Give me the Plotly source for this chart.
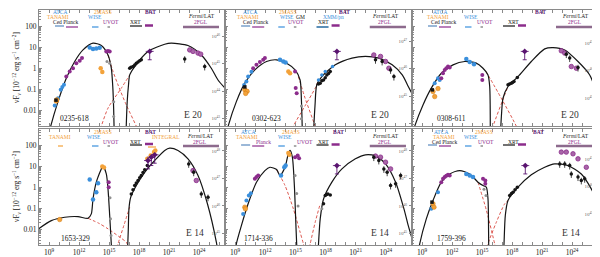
import plotly.graph_objects as go

W, H = 600, 257
FONT = "Liberation Serif"

# ---------------- axis ticks ----------------
X_TICKVALS = [1e9, 1e12, 1e15, 1e18, 1e21, 1e24]
X_TICKTEXT = ["10<sup>9</sup>", "10<sup>12</sup>", "10<sup>15</sup>", "10<sup>18</sup>", "10<sup>21</sup>", "10<sup>24</sup>"]
Y_TICKVALS = [0.01, 0.1, 1, 10, 100]
Y_TICKTEXT = ["0.01", "0.1", "1", "10", "100"]

SOURCES = ["0235-618", "0302-623", "0308-611", "1653-329", "1714-336", "1759-396"]
EPOCHS = ["E 20", "E 20", "E 20", "E 14", "E 14", "E 14"]
# right-hand nuL_nu tick exponents per panel
R_EXP_0235 = [43, 44, 45, 46]
R_EXP_0302 = [44, 45, 46, 47]
R_EXP_0308 = [45, 46, 47]
R_EXP_1653 = [45, 46, 47, 48]
R_EXP_1714 = [45, 46, 47, 48]
R_EXP_1759 = [45, 46, 47]

# ---------------- data (log10 nu [Hz], log10 nuFnu [1e-12 erg/s/cm2]) ----------------
# 0235-618
P0235_SYN_NU = [9.0, 9.17, 9.9, 10.73, 11.57, 12.4, 13.4, 14.23, 14.9, 15.23, 15.38, 15.47, 15.52]
P0235_SYN_F = [-3.1, -2.76, -1.59, -0.48, 0.32, 0.87, 1.19, 1.08, 0.63, 0.0, -0.9, -2.0, -3.1]
P0235_IC_NU = [16.7, 16.82, 16.95, 17.07, 17.57, 18.9, 20.57, 21.23, 22.9, 24.23, 25.23, 25.9, 26.7]
P0235_IC_F = [-3.1, -1.6, -0.8, -0.32, 0.08, 0.8, 1.14, 1.19, 1.08, 0.63, 0.0, -0.56, -1.0]
P0235_SYNU_NU = [14.9, 15.4, 15.9, 16.73, 17.73, 17.95]
P0235_SYNU_F = [0.63, -0.15, -0.79, -1.75, -2.76, -3.05]
P0235_ICU_NU = [14.0, 14.23, 14.9, 16.23, 17.07]
P0235_ICU_F = [-3.1, -2.76, -1.9, -0.95, -0.32]
P0235_TAN_NU = [9.73, 9.78]
P0235_TAN_F = [-1.56, -1.5]
P0235_CED_NU = [9.7]
P0235_CED_F = [-1.52]
P0235_ATCA_NU = [9.57, 9.9, 10.17, 10.33, 10.5]
P0235_ATCA_F = [-1.78, -1.43, -1.03, -0.89, -0.79]
P0235_PLK_NU = [10.73, 11.07, 11.4, 11.73, 12.07, 12.3]
P0235_PLK_F = [-0.40, -0.16, 0.0, 0.24, 0.35, 0.48]
P0235_WISE_NU = [13.07, 13.4, 13.73, 14.07]
P0235_WISE_F = [0.98, 0.92, 0.94, 0.97]
P0235_MASS_NU = [14.17, 14.33]
P0235_MASS_F = [0.0, -0.18]
P0235_UVOT_NU = [14.73, 14.9, 15.07]
P0235_UVOT_F = [0.80, 0.82, 0.80]
P0235_GRY_NU = [14.8, 15.07, 15.47, 15.47]
P0235_GRY_F = [0.32, 0.24, -1.6, -2.3]
P0235_XMM_NU = []
P0235_XMM_F = []
P0235_XRT_NU = [17.07, 17.2, 17.4, 17.57, 17.73, 17.9, 18.07, 18.23]
P0235_XRT_F = [0.0, 0.05, 0.08, 0.15, 0.24, 0.30, 0.35, 0.40]
P0235_BAT_NU = [19.07]
P0235_BAT_F = [0.80]
P0235_INT_NU = []
P0235_INT_F = []
P0235_LATP_NU = [23.07, 23.4, 23.9, 24.17]
P0235_LATP_F = [0.87, 0.80, 0.72, 0.67]
P0235_LATB_NU = [22.57, 24.57]
P0235_LATB_F = [0.44, 0.08]

# 0302-623
P0302_SYN_NU = [8.1, 8.3, 9.13, 9.97, 10.97, 12.13, 13.13, 14.13, 14.97, 15.47, 15.6, 15.7]
P0302_SYN_F = [-3.2, -2.78, -1.59, -0.71, -0.08, 0.32, 0.40, 0.24, -0.08, -0.56, -1.5, -3.2]
P0302_IC_NU = [16.8, 16.95, 17.13, 17.63, 18.97, 20.63, 21.97, 23.3, 24.63, 25.63, 26.23, 26.7]
P0302_IC_F = [-3.1, -1.8, -0.79, -0.40, 0.16, 0.48, 0.56, 0.48, 0.16, -0.32, -0.87, -1.3]
P0302_SYNU_NU = [15.3, 15.97, 16.97, 17.2]
P0302_SYNU_F = [-0.4, -1.43, -2.76, -3.1]
P0302_ICU_NU = [14.6, 14.8, 16.0, 16.97, 17.3]
P0302_ICU_F = [-3.1, -2.76, -1.76, -0.95, -0.56]
P0302_TAN_NU = [9.97, 10.2, 10.05]
P0302_TAN_F = [-1.03, -1.1, -1.2]
P0302_CED_NU = [9.97]
P0302_CED_F = [-0.89]
P0302_ATCA_NU = [9.9, 10.13, 10.3, 10.63]
P0302_ATCA_F = [-0.80, -0.63, -0.40, -0.17]
P0302_PLK_NU = [10.8, 11.13, 11.47, 11.8, 11.97]
P0302_PLK_F = [0.0, 0.16, 0.29, 0.40, 0.48]
P0302_WISE_NU = [13.47, 13.8, 14.03]
P0302_WISE_F = [0.40, 0.32, 0.27]
P0302_MASS_NU = [14.3, 14.47]
P0302_MASS_F = [-0.16, -0.24]
P0302_UVOT_NU = [14.97, 15.03, 15.13]
P0302_UVOT_F = [-0.16, -0.94, -1.19]
P0302_GRY_NU = [15.6, 15.6]
P0302_GRY_F = [-1.8, -2.4]
P0302_XMM_NU = [17.3, 17.63, 17.97, 18.7]
P0302_XMM_F = [-0.56, -0.32, -0.16, 0.08]
P0302_XRT_NU = [17.3, 17.47, 17.63, 17.8, 17.97, 18.13, 18.3, 18.47]
P0302_XRT_F = [-0.75, -0.71, -0.60, -0.56, -0.45, -0.32, -0.25, -0.16]
P0302_BAT_NU = [19.13]
P0302_BAT_F = [0.80]
P0302_INT_NU = []
P0302_INT_F = []
P0302_LATP_NU = [22.8, 23.47, 23.97, 24.3]
P0302_LATP_F = [0.63, 0.56, 0.32, 0.0]
P0302_LATB_NU = [22.97, 23.63, 24.47, 24.8]
P0302_LATB_F = [0.40, 0.32, -0.08, -0.40]

# 0308-611
P0308_SYN_NU = [8.0, 8.27, 9.1, 9.93, 10.93, 12.1, 13.27, 14.43, 15.1, 15.6, 15.77, 15.83]
P0308_SYN_F = [-3.2, -2.76, -1.75, -0.95, -0.24, 0.16, 0.32, 0.24, 0.0, -0.32, -0.87, -3.2]
P0308_IC_NU = [16.85, 16.95, 17.1, 17.6, 18.6, 19.93, 21.27, 22.1, 23.27, 24.6, 25.77, 26.7]
P0308_IC_F = [-3.1, -2.2, -1.43, -0.87, -0.40, 0.32, 0.92, 0.98, 0.87, 0.32, -0.32, -1.55]
P0308_SYNU_NU = [15.4, 16.93, 18.43, 18.6]
P0308_SYNU_F = [-0.15, -1.43, -2.76, -3.0]
P0308_ICU_NU = [15.9, 16.1, 17.27, 17.6]
P0308_ICU_F = [-3.1, -2.76, -1.27, -0.87]
P0308_TAN_NU = [10.1, 10.27, 10.6]
P0308_TAN_F = [-1.11, -1.35, -0.97]
P0308_CED_NU = [10.03]
P0308_CED_F = [-1.03]
P0308_ATCA_NU = [10.27, 10.6, 10.77]
P0308_ATCA_F = [-0.71, -0.48, -0.56]
P0308_PLK_NU = [10.93, 11.1, 11.27, 11.43, 11.6, 11.77]
P0308_PLK_F = [-0.48, -0.24, -0.08, 0.0, 0.08, 0.03]
P0308_WISE_NU = [13.43, 13.77, 14.2]
P0308_WISE_F = [0.44, 0.29, 0.19]
P0308_MASS_NU = []
P0308_MASS_F = []
P0308_UVOT_NU = [15.03, 15.03]
P0308_UVOT_F = [-0.32, -0.56]
P0308_GRY_NU = []
P0308_GRY_F = []
P0308_XMM_NU = []
P0308_XMM_F = []
P0308_XRT_NU = [17.6, 17.75, 17.93, 18.05, 18.2, 18.53]
P0308_XRT_F = [-0.79, -0.75, -0.71, -0.68, -0.63, -0.44]
P0308_BAT_NU = [19.27]
P0308_BAT_F = [0.80]
P0308_INT_NU = []
P0308_INT_F = []
P0308_LATP_NU = [22.93, 23.27, 23.93, 24.43]
P0308_LATP_F = [0.83, 0.72, 0.08, 0.0]
P0308_LATB_NU = [23.43, 23.77, 24.6]
P0308_LATB_F = [0.67, 0.48, 0.03]

# 1653-329
P1653_SYN_NU = [7.9, 9.23, 10.57, 11.9, 12.9, 13.23, 13.4, 13.73, 14.23, 14.4, 14.73, 14.9, 15.07, 15.23, 15.3]
P1653_SYN_F = [-2.0, -1.59, -1.43, -1.40, -1.48, -1.27, -0.56, 0.24, 0.87, 1.03, 0.63, -0.08, -1.35, -2.7, -3.2]
P1653_IC_NU = [16.85, 16.93, 17.0, 17.17, 17.73, 18.57, 19.57, 20.57, 21.07, 21.9, 22.9, 23.9, 24.85, 25.73, 25.9]
P1653_IC_F = [-3.1, -2.0, -1.0, -0.48, 0.08, 0.71, 1.27, 1.75, 1.86, 1.75, 1.35, 0.56, -0.80, -2.6, -3.1]
P1653_SYNU_NU = [12.9, 14.0, 14.9, 16.0, 16.73, 17.0]
P1653_SYNU_F = [-1.48, -1.72, -1.98, -2.35, -2.62, -2.9]
P1653_ICU_NU = [15.7, 15.9, 16.5, 17.07]
P1653_ICU_F = [-3.1, -2.7, -1.8, -0.95]
P1653_TAN_NU = [10.07]
P1653_TAN_F = [-1.54]
P1653_CED_NU = []
P1653_CED_F = []
P1653_ATCA_NU = []
P1653_ATCA_F = []
P1653_PLK_NU = []
P1653_PLK_F = []
P1653_WISE_NU = [13.07, 13.4, 13.73, 13.9]
P1653_WISE_F = [0.37, -0.59, -0.24, 0.19]
P1653_MASS_NU = [14.33, 14.5]
P1653_MASS_F = [0.98, 0.94]
P1653_UVOT_NU = [14.97, 14.97]
P1653_UVOT_F = [0.24, 0.0]
P1653_GRY_NU = [15.1, 15.15, 15.2]
P1653_GRY_F = [-0.5, -1.5, -2.3]
P1653_XMM_NU = []
P1653_XMM_F = []
P1653_XRT_NU = [17.23, 17.4, 17.57, 17.73, 17.9, 18.07, 18.23, 18.4, 18.57, 18.83]
P1653_XRT_F = [-0.32, -0.12, 0.08, 0.20, 0.32, 0.45, 0.56, 0.70, 0.83, 1.03]
P1653_BAT_NU = [18.9, 19.23, 19.57]
P1653_BAT_F = [1.27, 1.43, 1.54]
P1653_INT_NU = [18.83, 19.17, 19.5, 19.63]
P1653_INT_F = [1.35, 1.51, 1.67, 1.75]
P1653_LATP_NU = [23.4, 23.73]
P1653_LATP_F = [0.79, 0.32]
P1653_LATB_NU = [22.97, 23.47, 24.23, 24.9]
P1653_LATB_F = [1.11, 0.71, -0.32, -0.48]

# 1714-336
P1714_SYN_NU = [9.0, 9.13, 9.63, 10.3, 11.13, 11.97, 12.47, 13.13, 13.47, 13.97, 14.3, 14.47, 14.7, 14.9, 15.03, 15.13, 15.2]
P1714_SYN_F = [-3.2, -2.7, -1.83, -0.79, 0.24, 0.79, 0.95, 0.84, 0.56, 0.95, 1.59, 1.75, 1.43, 0.08, -1.51, -2.7, -3.2]
P1714_IC_NU = [17.25, 17.3, 17.47, 17.8, 18.63, 19.63, 20.97, 21.97, 22.97, 23.97, 24.97, 25.8, 26.23, 26.7]
P1714_IC_F = [-3.1, -2.7, -1.51, -0.56, 0.24, 0.87, 1.35, 1.54, 1.48, 1.11, 0.24, -1.03, -1.83, -2.6]
P1714_SYNU_NU = [13.13, 13.97, 14.8, 15.47, 15.8, 15.95]
P1714_SYNU_F = [0.84, 0.08, -1.03, -2.14, -2.7, -3.0]
P1714_ICU_NU = [16.3, 16.47, 16.97, 17.47]
P1714_ICU_F = [-3.1, -2.7, -1.67, -0.79]
P1714_TAN_NU = [9.97, 10.03]
P1714_TAN_F = [-0.95, -1.03]
P1714_CED_NU = []
P1714_CED_F = []
P1714_ATCA_NU = [9.8, 10.13, 10.37, 10.57]
P1714_ATCA_F = [-1.27, -0.63, -0.40, -0.29]
P1714_PLK_NU = [10.97, 11.13, 11.3]
P1714_PLK_F = [0.40, 0.48, 0.56]
P1714_WISE_NU = [13.57, 13.9, 14.03]
P1714_WISE_F = [0.56, 0.95, 1.03]
P1714_MASS_NU = [14.3, 14.4]
P1714_MASS_F = [1.63, 1.54]
P1714_UVOT_NU = [14.97, 15.23, 15.37]
P1714_UVOT_F = [1.43, 1.51, 1.38]
P1714_GRY_NU = [14.97, 15.13, 15.27, 17.63]
P1714_GRY_F = [0.56, -0.3, -0.9, -1.03]
P1714_XMM_NU = []
P1714_XMM_F = []
P1714_XRT_NU = [17.8, 17.97, 18.1, 18.23, 18.47]
P1714_XRT_F = [-0.79, -0.40, -0.35, -0.32, -0.37]
P1714_BAT_NU = [19.13]
P1714_BAT_F = [1.03]
P1714_INT_NU = []
P1714_INT_F = []
P1714_LATP_NU = [22.97, 23.47, 23.97, 24.47]
P1714_LATP_F = [1.48, 1.43, 1.19, 0.87]
P1714_LATB_NU = [22.8, 23.3, 23.8, 24.13, 24.47, 24.97, 25.47]
P1714_LATB_F = [1.43, 1.27, 0.87, 0.71, 0.08, 0.16, 0.56]

# 1759-396
P1759_SYN_NU = [8.6, 8.77, 9.43, 10.1, 10.93, 11.77, 12.77, 13.77, 14.6, 15.1, 15.43, 15.6, 15.67, 15.7]
P1759_SYN_F = [-3.2, -2.7, -1.51, -0.63, 0.24, 0.63, 0.79, 0.63, 0.24, 0.08, 0.0, -0.56, -2.7, -3.2]
P1759_IC_NU = [17.15, 17.2, 17.33, 17.6, 18.6, 19.93, 21.27, 22.27, 23.6, 24.93, 25.93, 26.53, 26.7]
P1759_IC_F = [-3.1, -2.7, -1.35, -0.63, 0.0, 0.59, 0.95, 1.11, 1.03, 0.63, -0.08, -0.71, -0.9]
P1759_SYNU_NU = [14.6, 15.43, 16.27, 16.45]
P1759_SYNU_F = [0.24, -1.08, -2.7, -3.1]
P1759_ICU_NU = [15.45, 15.6, 16.43, 17.27, 17.6]
P1759_ICU_F = [-3.1, -2.7, -1.67, -0.79, -0.63]
P1759_TAN_NU = [10.1, 10.2]
P1759_TAN_F = [-0.79, -0.95]
P1759_CED_NU = [10.0]
P1759_CED_F = [-0.71]
P1759_ATCA_NU = [9.93, 10.6]
P1759_ATCA_F = [-1.03, -0.24]
P1759_PLK_NU = [10.93, 11.1, 11.27, 11.43, 11.6, 11.77]
P1759_PLK_F = [0.24, 0.40, 0.48, 0.55, 0.59, 0.56]
P1759_WISE_NU = [13.43, 13.77, 14.1]
P1759_WISE_F = [0.63, 0.56, 0.48]
P1759_MASS_NU = []
P1759_MASS_F = []
P1759_UVOT_NU = [15.1, 15.33, 15.33]
P1759_UVOT_F = [0.40, 0.32, 0.16]
P1759_GRY_NU = [15.2, 15.4]
P1759_GRY_F = [-0.1, -0.4]
P1759_XMM_NU = []
P1759_XMM_F = []
P1759_XRT_NU = [17.77, 17.95, 18.1, 18.3, 18.53]
P1759_XRT_F = [-0.40, -0.30, -0.24, -0.12, 0.0]
P1759_BAT_NU = [19.33]
P1759_BAT_F = [1.03]
P1759_INT_NU = []
P1759_INT_F = []
P1759_LATP_NU = [22.93, 23.43, 24.1, 24.6, 25.43]
P1759_LATP_F = [1.67, 1.67, 1.59, 1.35, 0.95]
P1759_LATB_NU = [22.77, 23.27, 23.77, 23.93, 24.6, 24.93, 25.27]
P1759_LATB_F = [1.11, 1.11, 1.03, 0.63, 0.48, 0.32, 0.40]

# instrument frequency bands (log10 nu)
BAND_ATCA = [9.6, 10.5]
BAND_PLANCK = [10.7, 11.9]
BAND_WISE = [13.3, 13.95]
BAND_UVOT = [14.85, 15.1]
BAND_XRT = [17.1, 18.3]
BAND_XMM = [17.1, 18.3]
BAND_BAT = [18.6, 19.4]
BAND_INT = [18.9, 19.7]
BAND_LAT = [22.4, 26.0]
BAND_TANAMI = [9.9, 10.4]

# ---------------- style ----------------
BLUE = "#3a8fdc"
ORANGE = "#f3a23a"
PURPLE = "#8c2c8c"
LPURPLE = "#a866a8"
DPURPLE = "#5a1470"
GREY = "#8f8f8f"
RED = "#d8453c"
DARK = "#151515"
AX = "#8a8a8a"

XDOM = [(31 / W, 217 / W), (217 / W, 404 / W), (404 / W, 590 / W)]
YDOM = [(1 - 118 / H, 1 - 2 / H), (1 - 237 / H, 1 - 121 / H)]
X_RANGE = [8.0, 26.6]
Y_RANGE = [-2.75, 2.77]
R_RANGES = [[42.73, 46.95], [43.91, 48.13], [43.98, 48.2], [44.58, 48.8], [44.58, 48.8], [43.87, 48.09]]
R_EXPS = [R_EXP_0235, R_EXP_0302, R_EXP_0308, R_EXP_1653, R_EXP_1714, R_EXP_1759]

g = globals()
KEYS = ["0235", "0302", "0308", "1653", "1714", "1759"]


def series(key, name):
    return g[f"P{key}_{name}_NU"], g[f"P{key}_{name}_F"]


def lin(v):
    return [10 ** a for a in v]


fig = go.Figure()

MARKERS = [
    ("ATCA", dict(color=BLUE, size=4, symbol="circle")),
    ("TAN", dict(color=ORANGE, size=4.5, symbol="circle", line=dict(color="#d07a10", width=0.5))),
    ("CED", dict(color=DARK, size=3.5, symbol="square")),
    ("PLK", dict(color=PURPLE, size=4, symbol="circle")),
    ("WISE", dict(color=BLUE, size=4.5, symbol="circle")),
    ("MASS", dict(color=ORANGE, size=4.5, symbol="circle")),
    ("GRY", dict(color=GREY, size=3, symbol="circle")),
    ("UVOT", dict(color=PURPLE, size=4, symbol="circle")),
    ("XMM", dict(color=BLUE, size=3.5, symbol="circle")),
    ("XRT", dict(color=DARK, size=3.5, symbol="circle")),
    ("INT", dict(color=ORANGE, size=4.5, symbol="circle")),
    ("BAT", dict(color=DPURPLE, size=4.5, symbol="diamond")),
    ("LATP", dict(color=LPURPLE, size=4.5, symbol="circle", line=dict(color=PURPLE, width=0.8))),
    ("LATB", dict(color=DARK, size=3.5, symbol="circle")),
]

for i, key in enumerate(KEYS):
    xa = "x" if i == 0 else f"x{i+1}"
    ya = "y" if i == 0 else f"y{i+1}"
    # model curves
    for name, col, dash, wdt in [("SYNU", RED, "3px,2px", 0.9), ("ICU", RED, "3px,2px", 0.9),
                                 ("SYN", DARK, "solid", 1.2), ("IC", DARK, "solid", 1.2)]:
        nu, f = series(key, name)
        fig.add_trace(go.Scatter(x=lin(nu), y=lin(f), mode="lines", xaxis=xa, yaxis=ya,
                                 line=dict(color=col, width=wdt, dash=dash, shape="spline", smoothing=0.7),
                                 hoverinfo="skip", showlegend=False))
    for name, mk in MARKERS:
        nu, f = series(key, name)
        if not nu:
            continue
        kw = {}
        xs = lin(nu)
        ys = lin(f)
        if name == "LATB":
            kw["error_y"] = dict(type="percent", value=35, color=DARK, thickness=0.8, width=0)
        if name == "BAT":
            kw["error_y"] = dict(type="data", symmetric=False, array=[0] * len(ys),
                                 arrayminus=[0.6 * v for v in ys], color=DPURPLE, thickness=0.9, width=2)
            kw["error_x"] = dict(type="data", symmetric=False, array=[v * 1.5 for v in xs],
                                 arrayminus=[v * 0.6 for v in xs], color=DPURPLE, thickness=0.8, width=0)
        fig.add_trace(go.Scatter(x=xs, y=ys, mode="markers", xaxis=xa, yaxis=ya,
                                 marker=mk, hoverinfo="skip", showlegend=False, **kw))
    # dummy trace for the right-hand axis
    fig.add_trace(go.Scatter(x=[None], y=[None], xaxis=xa, yaxis=f"y{i+7}", showlegend=False, hoverinfo="skip"))

layout = dict(width=W, height=H, margin=dict(l=0, r=0, t=0, b=0), autosize=False,
              paper_bgcolor="white", plot_bgcolor="white", font=dict(family=FONT, color=DARK), showlegend=False)

for i in range(6):
    r, c = divmod(i, 3)
    xs = "xaxis" if i == 0 else f"xaxis{i+1}"
    ys = "yaxis" if i == 0 else f"yaxis{i+1}"
    yname = "y" if i == 0 else f"y{i+1}"
    xname = "x" if i == 0 else f"x{i+1}"
    layout[xs] = dict(type="log", range=X_RANGE, domain=XDOM[c], anchor=yname,
                      tickvals=X_TICKVALS, ticktext=X_TICKTEXT, showticklabels=(r == 1),
                      ticks="inside", ticklen=3, tickcolor=AX, mirror="allticks", showline=True,
                      linecolor=AX, linewidth=1, showgrid=False, zeroline=False,
                      tickfont=dict(size=7.5, color=DARK, family=FONT),
                      minor=dict(ticks="inside", ticklen=1.5, dtick=1, tickcolor=AX, showgrid=False))
    layout[ys] = dict(type="log", range=Y_RANGE, domain=YDOM[r], anchor=xname,
                      tickvals=Y_TICKVALS, ticktext=Y_TICKTEXT, showticklabels=(c == 0),
                      ticks="inside", ticklen=3, tickcolor=AX, mirror=True, showline=True,
                      linecolor=AX, linewidth=1, showgrid=False, zeroline=False,
                      tickfont=dict(size=7.5, color=DARK, family=FONT),
                      minor=dict(ticks="inside", ticklen=1.5, dtick="D1", tickcolor=AX, showgrid=False))
    exps = R_EXPS[i]
    layout[f"yaxis{i+7}"] = dict(type="log", range=R_RANGES[i], overlaying=yname, side="right", anchor=xname,
                                 tickvals=[10.0 ** e for e in exps], ticktext=[f"10<sup>{e}</sup>" for e in exps],
                                 ticklabelposition="inside", ticks="inside", ticklen=3, tickcolor=AX,
                                 showgrid=False, showline=False, zeroline=False,
                                 tickfont=dict(size=5, color="#666666", family=FONT))

fig.update_layout(**layout)


def P(x, y):
    return x / W, 1 - y / H


ann = []


def text(t, x, y, size=5.5, color=DARK, angle=0, bold=False):
    px, py = P(x, y)
    if bold:
        t = f"<b>{t}</b>"
    ann.append(dict(text=t, x=px, y=py, xref="paper", yref="paper", showarrow=False,
                    xanchor="center", yanchor="middle", textangle=angle,
                    font=dict(size=size, color=color, family=FONT)))


# instrument labels: (text, color, x px, y px)
LABELS = [
    [("ATCA", BLUE, 52, 4), ("TANAMI", ORANGE, 50, 9), ("Ced Planck", DARK, 57, 14),
     ("2MASS", ORANGE, 95, 4), ("WISE", BLUE, 87, 9), ("UVOT", PURPLE, 103, 14),
     ("BAT", DPURPLE, 142, 4), ("XRT", DARK, 127, 14), ("<i>Fermi</i>/LAT", DARK, 193, 8), ("2FGL", PURPLE, 193, 14)],
    [("ATCA", BLUE, 242, 4), ("TANAMI", ORANGE, 240, 9), ("Ced Planck", DARK, 247, 14),
     ("2MASS", ORANGE, 280, 4), ("WISE", BLUE, 279, 9), ("GM", DARK, 292, 9), ("UVOT", PURPLE, 288, 14),
     ("XMM/pn", BLUE, 325, 9), ("XRT", DARK, 315, 14), ("BAT", DPURPLE, 336, 4),
     ("<i>Fermi</i>/LAT", DARK, 377, 8), ("2FGL", PURPLE, 377, 14)],
    [("ATCA", BLUE, 432, 4), ("TANAMI", ORANGE, 430, 9), ("Ced Planck", DARK, 435, 14),
     ("WISE", BLUE, 463, 9), ("UVOT", PURPLE, 477, 14), ("BAT", DPURPLE, 532, 4), ("XRT", DARK, 505, 14),
     ("<i>Fermi</i>/LAT", DARK, 567, 8), ("2FGL", PURPLE, 567, 14)],
    [("TANAMI", ORANGE, 52, 129), ("2MASS", ORANGE, 95, 124), ("WISE", BLUE, 86, 129),
     ("UVOT", PURPLE, 103, 134), ("BAT", DPURPLE, 142, 124), ("XRT", DARK, 127, 134),
     ("INTEGRAL", ORANGE, 158, 129), ("<i>Fermi</i>/LAT", DARK, 192, 128), ("2FGL", PURPLE, 192, 134)],
    [("ATCA", BLUE, 240, 124), ("TANAMI", ORANGE, 239, 129), ("Planck", PURPLE, 255, 134),
     ("2MASS", ORANGE, 283, 124), ("WISE", BLUE, 277, 129), ("UVOT", PURPLE, 297, 134),
     ("XRT", DARK, 315, 134), ("BAT", DPURPLE, 330, 124),
     ("<i>Fermi</i>/LAT", DARK, 377, 128), ("2FGL", PURPLE, 377, 134)],
    [("ATCA", BLUE, 433, 124), ("TANAMI", ORANGE, 436, 129), ("Ced Planck", DARK, 436, 134),
     ("2MASS", ORANGE, 476, 124), ("WISE", BLUE, 463, 129), ("UVOT", PURPLE, 478, 134),
     ("XRT", DARK, 505, 134), ("BAT", DPURPLE, 530, 124),
     ("<i>Fermi</i>/LAT", DARK, 567, 128), ("2FGL", PURPLE, 567, 134)],
]
for i, labs in enumerate(LABELS):
    for t, col, x, y in labs:
        text(t, x, y, size=5.5, color=col, bold=(t == "BAT"))

# instrument band bars per panel: (band, color, px below panel top, width)
BARS = [
    [(BAND_ATCA, "#9bb8d8", 16, 2), (BAND_PLANCK, PURPLE, 17, 1.2), (BAND_WISE, BLUE, 17, 1.2),
     (BAND_UVOT, GREY, 17, 1.5), (BAND_XRT, DARK, 16, 1.2), (BAND_BAT, PURPLE, 15.5, 2.5), (BAND_LAT, "#8d6a8d", 17, 2.5)],
    [(BAND_ATCA, "#9bb8d8", 16, 2), (BAND_PLANCK, PURPLE, 17, 1.2), (BAND_WISE, BLUE, 17, 1.2),
     (BAND_UVOT, GREY, 17, 1.5), (BAND_XMM, "#5b8fb8", 17, 2), (BAND_BAT, PURPLE, 15.5, 2.5), (BAND_LAT, "#8d6a8d", 17, 2.5)],
    [(BAND_ATCA, "#9bb8d8", 16, 2), (BAND_PLANCK, PURPLE, 17, 1.2), (BAND_WISE, BLUE, 17, 1.2),
     (BAND_UVOT, GREY, 17, 1.5), (BAND_XRT, DARK, 16, 1.2), (BAND_BAT, PURPLE, 15.5, 2.5), (BAND_LAT, "#8d6a8d", 17, 2.5)],
    [(BAND_TANAMI, ORANGE, 17, 1.2), (BAND_WISE, BLUE, 17, 1.2), (BAND_UVOT, GREY, 17, 1.5),
     (BAND_XRT, DARK, 16, 1.2), (BAND_BAT, PURPLE, 15, 2.5), (BAND_INT, ORANGE, 18, 1.2), (BAND_LAT, "#8d6a8d", 17, 2.5)],
    [(BAND_ATCA, "#9bb8d8", 16, 2), (BAND_PLANCK, PURPLE, 17, 1.2), (BAND_WISE, BLUE, 17, 1.2),
     (BAND_UVOT, GREY, 17, 1.5), (BAND_XRT, DARK, 16, 1.2), (BAND_BAT, PURPLE, 15.5, 2.5), (BAND_LAT, "#8d6a8d", 17, 2.5)],
    [(BAND_ATCA, "#9bb8d8", 16, 2), (BAND_PLANCK, PURPLE, 17, 1.2), (BAND_WISE, BLUE, 17, 1.2),
     (BAND_UVOT, GREY, 17, 1.5), (BAND_XRT, DARK, 16, 1.2), (BAND_BAT, PURPLE, 15.5, 2.5), (BAND_LAT, "#8d6a8d", 17, 2.5)],
]
shapes = []
for i, bars in enumerate(BARS):
    xname = "x" if i == 0 else f"x{i+1}"
    yname = "y" if i == 0 else f"y{i+1}"
    for band, col, ypx, wdt in bars:
        yf = 1 - ypx / 116
        shapes.append(dict(type="line", xref=xname, yref=f"{yname} domain", x0=10 ** band[0], x1=10 ** band[1],
                           y0=yf, y1=yf, line=dict(color=col, width=wdt)))

# source names and epochs
NAME_POS = [(66, 110), (258, 110), (443, 110), (67, 230), (250, 230), (443, 230)]
EPOCH_POS = [(185, 107), (372, 107), (562, 107), (187, 225), (372, 225), (563, 225)]
for i in range(6):
    text(SOURCES[i], *NAME_POS[i], size=7.5)
    text(EPOCHS[i], *EPOCH_POS[i], size=9.5, color="#333333")

# axis titles
for y in (60, 179):
    text("νF<sub>ν</sub> [10<sup>−12</sup> erg s<sup>−1</sup> cm<sup>−2</sup>]", 8, y, size=7.5, angle=-90)
    text("νL<sub>ν</sub> [erg s<sup>−1</sup>]", 592.5, y, size=6.5, angle=90)
for x in (124, 310, 497):
    text("Frequency [Hz]", x, 252.5, size=7.5)

fig.update_layout(annotations=ann, shapes=shapes)
fig.write_html("out.html")
